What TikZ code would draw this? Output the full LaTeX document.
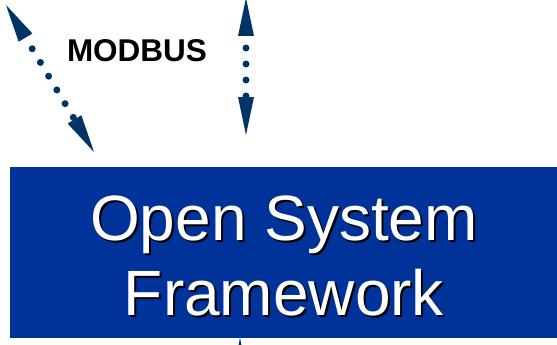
\documentclass[tikz,border=0pt]{standalone}
\usepackage{fontspec}
\setmainfont{Liberation Sans}
\usetikzlibrary{arrows.meta}
\definecolor{boxblue}{RGB}{0,51,153}
\definecolor{navy}{RGB}{0,51,102}
\tikzset{navtip/.tip={Triangle[length=38pt,width=16pt,line width=0pt]}}
\newcommand{\shadowedtext}[1]{\rlap{\hspace{2pt}\raisebox{-2pt}{\color{black}#1}}\color{white}#1}
\begin{document}
\begin{tikzpicture}[x=1pt,y=-1pt,
  dotlink/.style={navy, line width=7pt, line cap=round, dash pattern=on 0pt off 16pt},
  box/.style={fill=boxblue, draw=none},
  title/.style={font=\fontsize{64}{75}\selectfont, anchor=base, inner sep=0pt},
  label/.style={text=black, font=\bfseries\fontsize{31.5}{36}\selectfont, anchor=base, inner sep=0pt}]
\useasboundingbox (0,0) rectangle (557,345);
% free ends of connectors
\coordinate (lA) at (6,5);
\coordinate (lB) at (94,152);
\coordinate (mA) at (246,-2);
\coordinate (mB) at (246,135);
\coordinate (bA) at (240,430);
\coordinate (bB) at (240,338);
% connectors
\draw[dotlink, dash phase=3pt, navtip-navtip] (lA) -- (lB);
\draw[dotlink, dash phase=4pt, navtip-navtip] (mA) -- (mB);
\draw[dotlink, -navtip] (bA) -- (bB);
% box
\path[box] (10,167) rectangle (575,338);
\node[label] (modbus) at (137,62) {MODBUS};
\node[title] (tA) at (284,240) {\shadowedtext{Open System}};
\node[title] (tB) at (284,315) {\shadowedtext{Framework}};
\end{tikzpicture}
\end{document}
